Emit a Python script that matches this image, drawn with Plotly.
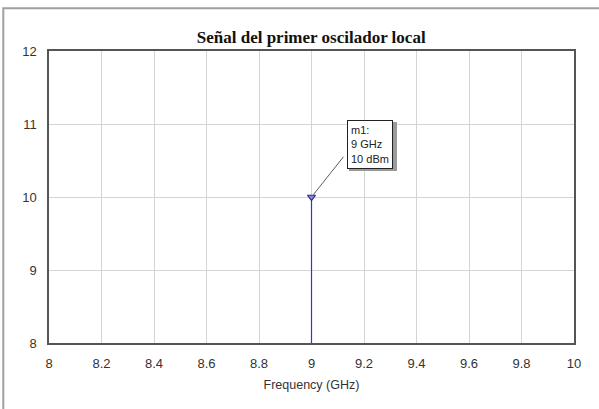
import plotly.graph_objects as go

# Data
freq_ghz = [9.0, 9.0]
power_dbm = [8.0, 10.0]
marker_freq = [9.0]
marker_power = [10.0]
x_ticks = [8, 8.2, 8.4, 8.6, 8.8, 9, 9.2, 9.4, 9.6, 9.8, 10]
x_ticklabels = ["8", "8.2", "8.4", "8.6", "8.8", "9", "9.2", "9.4", "9.6", "9.8", "10"]
y_ticks = [8, 9, 10, 11, 12]
marker_label = "m1:<br>9 GHz<br>10 dBm"

W, H = 599, 409
L, R, T, B = 48.7, 25.3, 50.7, 66.3
pw, ph = W - L - R, H - T - B

fig = go.Figure()
fig.add_trace(go.Scatter(x=freq_ghz, y=power_dbm, mode="lines",
                         line=dict(color="#3535c8", width=1.2), hoverinfo="skip",
                         showlegend=False))
fig.add_trace(go.Scatter(x=marker_freq, y=marker_power, mode="markers",
                         marker=dict(symbol="triangle-down", size=7, color="#8a8ad8",
                                     line=dict(color="#2a2a90", width=1.2)),
                         showlegend=False))

# Outer frame (left and top edges visible only)
fig.add_shape(type="rect", xref="paper", yref="paper",
              x0=(3 - L) / pw, x1=(700 - L) / pw,
              y0=(H - T - 500) / ph, y1=(ph + T - 8) / ph,
              line=dict(color="#a0a0a0", width=2), layer="below")

# Leader line
fig.add_annotation(x=marker_freq[0], y=marker_power[0], xref="x", yref="y",
                   text=" ", showarrow=True, arrowhead=0, arrowwidth=0.8, arrowcolor="#333333",
                   ax=35, ay=-44, standoff=3)
# Shadow of the marker box (blank)
blank = "<br>".join(["&nbsp;" * 13] * 3)
fig.add_annotation(x=marker_freq[0], y=marker_power[0], xref="x", yref="y",
                   text=blank, showarrow=False, align="left",
                   xanchor="left", yanchor="middle", xshift=37, yshift=51,
                   font=dict(family="Liberation Sans, Arial", size=11, color="#9a9a9a"),
                   bgcolor="#9a9a9a", bordercolor="#9a9a9a", borderwidth=1, borderpad=3)
fig.add_annotation(x=marker_freq[0], y=marker_power[0], xref="x", yref="y",
                   text=marker_label, showarrow=False, align="left",
                   xanchor="left", yanchor="middle", xshift=35, yshift=53,
                   font=dict(family="Liberation Sans, Arial", size=11, color="#222222"),
                   bgcolor="white", bordercolor="#222222", borderwidth=1, borderpad=3)

axis_common = dict(showgrid=True, gridcolor="#d4d4d4", gridwidth=1, zeroline=False,
                   showline=True, linecolor="#555555", linewidth=1.5, mirror=True,
                   ticks="", tickfont=dict(family="Liberation Sans, Arial", size=13, color="#333333"))

fig.update_xaxes(range=[8, 10], tickvals=x_ticks, ticktext=x_ticklabels,
                 title=dict(text="Frequency (GHz)", font=dict(family="Liberation Sans, Arial", size=12.5, color="#333333"),
                            standoff=10),
                 ticklabelstandoff=8, **axis_common)
fig.update_yaxes(range=[8, 12], tickvals=y_ticks, ticklabelstandoff=8, **axis_common)

fig.update_layout(
    width=W, height=H,
    margin=dict(l=L, r=R, t=T, b=B, autoexpand=False),
    paper_bgcolor="white", plot_bgcolor="white",
    title=dict(text="<b>Señal del primer oscilador local</b>", x=(L + pw / 2) / W, xanchor="center",
               y=1 - 37 / H, yanchor="middle",
               font=dict(family="Liberation Serif, Times New Roman", size=17, color="#111111")),
)

fig.write_html("out.html", config={"displayModeBar": False},
               post_script="document.body.style.margin='0';")
